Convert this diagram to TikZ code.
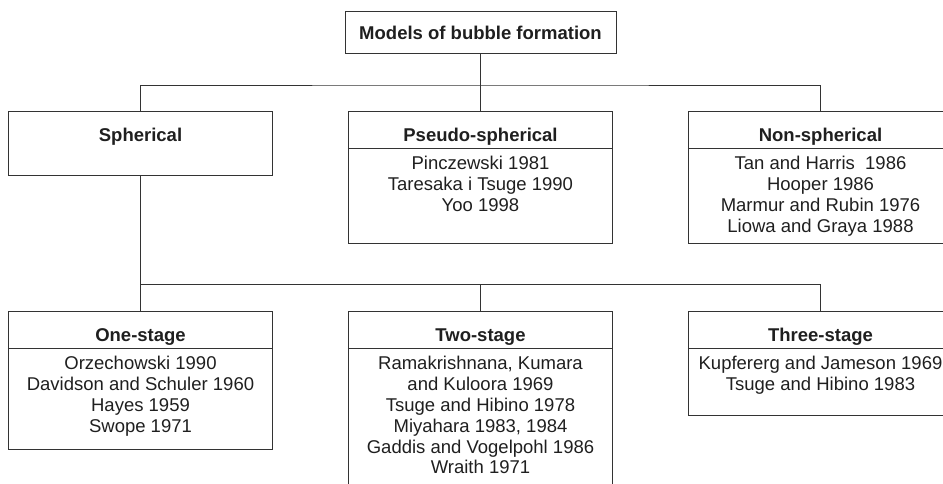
\documentclass[tikz,border=0pt]{standalone}
\usepackage{fontspec}
\setmainfont{Liberation Sans}
\newcommand\boxfont{\fontsize{18.5}{20.8}\selectfont}
\tikzset{
  box/.style={draw=black!80, line width=0.9pt, minimum width=264.4pt, anchor=north, inner sep=0pt},
  head/.style={font=\boxfont\bfseries, anchor=base, inner sep=0pt, text=black!88},
  refs/.style={font=\boxfont, align=center, anchor=north, inner sep=0pt, text=black!88},
  link/.style={draw=black!80, line width=0.9pt}
}
\begin{document}
\begin{tikzpicture}[x=1pt,y=-1pt,font=\boxfont]
\path[use as bounding box, clip] (0,0) rectangle (943,484);

\node(Models)[draw=black!80, line width=0.9pt, minimum width=271pt, minimum height=42pt, inner sep=0pt, font=\boxfont\bfseries, text=black!88] at (480.5,32.7) {Models of bubble formation};

\node(Sph)[box, minimum height=64.6pt] at (140.5,110.7) {};
\node(SphT)[head] at (140.5,141.2) {Spherical};

\node(Pse)[box, minimum height=132.6pt] at (480.5,110.7) {};
\node(PseT)[head] at (480.5,141.2) {Pseudo-spherical};
\node(PseR)[refs] at (480.5,156.2) {Pinczewski 1981\\Taresaka i Tsuge 1990\\Yoo 1998};

\node(Non)[box, minimum height=132.6pt] at (820.5,110.7) {};
\node(NonT)[head] at (820.5,141.2) {Non-spherical};
\node(NonR)[refs] at (820.5,156.2) {Tan and Harris~ 1986\\Hooper 1986\\Marmur and Rubin 1976\\Liowa and Graya 1988};

\node(One)[box, minimum height=138.6pt] at (140.5,310.7) {};
\node(OneT)[head] at (140.5,341.2) {One-stage};
\node(OneR)[refs] at (140.5,356.2) {Orzechowski 1990\\Davidson and Schuler 1960\\Hayes 1959\\Swope 1971};

\node(Two)[box, minimum height=200pt] at (480.5,310.7) {};
\node(TwoT)[head] at (480.5,341.2) {Two-stage};
\node(TwoR)[refs] at (480.5,356.2) {Ramakrishnana, Kumara\\and Kuloora 1969\\Tsuge and Hibino 1978\\Miyahara 1983, 1984\\Gaddis and Vogelpohl 1986\\Wraith 1971};

\node(Thr)[box, minimum height=104.3pt] at (820.5,310.7) {};
\node(ThrT)[head] at (820.5,341.2) {Three-stage};
\node(ThrR)[refs] at (820.5,356.2) {Kupfererg and Jameson 1969\\Tsuge and Hibino 1983};

\draw[link] ([yshift=-38pt]Pse.north west) -- ([yshift=-38pt]Pse.north east);
\draw[link] ([yshift=-38pt]Non.north west) -- ([yshift=-38pt]Non.north east);
\draw[link] ([yshift=-38pt]One.north west) -- ([yshift=-38pt]One.north east);
\draw[link] ([yshift=-38pt]Two.north west) -- ([yshift=-38pt]Two.north east);
\draw[link] ([yshift=-38pt]Thr.north west) -- ([yshift=-38pt]Thr.north east);

\coordinate(Bus1) at (480.5,85);
\coordinate(Bus2) at (480.5,284.3);
\draw[link] (Models.south) -- (Pse.north);
\draw[link] (Sph.north) |- (Bus1) -| (Non.north);
\draw[link] (Sph.south) -- (One.north);
\draw[link] (Sph.south |- Bus2) -| (Thr.north);
\draw[link] (Bus2) -- (Two.north);
\end{tikzpicture}
\end{document}
